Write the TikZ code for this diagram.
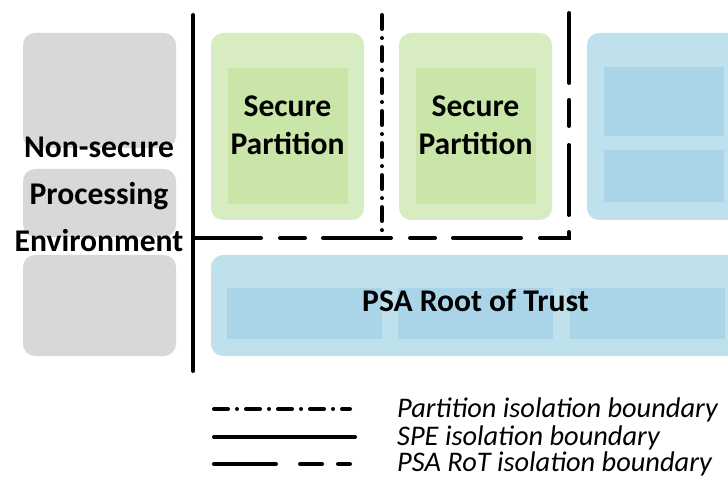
\documentclass[tikz,border=0pt]{standalone}
\usepackage{fontspec}
\setmainfont{Carlito}
\definecolor{nsgray}{HTML}{D8D8D8}
\definecolor{spouter}{HTML}{D8ECC2}
\definecolor{spinner}{HTML}{C9E5A8}
\definecolor{rotouter}{HTML}{BFE1EC}
\definecolor{rotinner}{HTML}{AAD4E7}
\tikzset{
  nsbox/.style={fill=nsgray, rounded corners=12pt},
  spbox/.style={fill=spouter, rounded corners=12pt},
  spcore/.style={fill=spinner},
  rotbox/.style={fill=rotouter, rounded corners=12pt},
  rotcore/.style={fill=rotinner},
  boundary/.style={line width=4pt, line cap=round, line join=miter},
  speline/.style={boundary},
  partline/.style={boundary, dash pattern=on 14pt off 9pt on 0.01pt off 9pt},
  rotline/.style={boundary, dash pattern=on 62pt off 24pt on 22pt off 16pt},
  bigtext/.style={font=\fontsize{31.6}{36}\selectfont\bfseries, anchor=base, inner sep=0pt},
  legtext/.style={font=\fontsize{28.4}{32}\selectfont\itshape, anchor=base west, inner sep=0pt}
}
\begin{document}
\begin{tikzpicture}[x=1pt, y=-1pt]
\useasboundingbox (0,0) rectangle (728,478);
\clip (0,0) rectangle (728,478);

% non-secure processing environment
\fill[nsbox] (23,33) rectangle (176,148);
\fill[nsbox] (23,169) rectangle (176,237);
\fill[nsbox] (23,255) rectangle (176,356);

% secure partitions
\fill[spbox] (211,33) rectangle (364,220);
\fill[spcore] (228,68) rectangle (348,204);
\fill[spbox] (399,33) rectangle (552,220);
\fill[spcore] (416,68) rectangle (536,204);

% PSA RoT service block, upper right
\fill[rotbox] (587,33) rectangle (760,220);
\fill[rotcore] (604,67) rectangle (724,136);
\fill[rotcore] (604,150) rectangle (724,202);

% PSA Root of Trust
\fill[rotbox] (211,255) rectangle (760,356);
\fill[rotcore] (227,288) rectangle (382,339);
\fill[rotcore] (398,288) rectangle (553,339);
\fill[rotcore] (570,288) rectangle (725,339);

% labels
\node[bigtext] (ns1) at (99,158) {Non-secure};
\node[bigtext] (ns2) at (99,205) {Processing};
\node[bigtext] (ns3) at (99,252) {Environment};
\node[bigtext] (spa1) at (287.5,117) {Secure};
\node[bigtext] (spa2) at (287.5,155) {Partition};
\node[bigtext] (spb1) at (475.5,117) {Secure};
\node[bigtext] (spb2) at (475.5,155) {Partition};
\node[bigtext] (rot) at (475.5,312) {PSA Root of Trust};

% isolation boundaries
\draw[speline] (193,15) -- (193,371);
\draw[partline] (382,15) -- (382,236);
\draw[boundary, dash pattern=on 68pt off 19pt on 25pt off 18pt on 68pt off 19pt on 25pt off 18pt on 68pt off 19pt on 35pt off 17pt on 70pt off 19pt on 26pt off 17pt on 70pt off 50pt]
  (193,238) -- (569,238) -- (569,13);

% legend
\draw[partline] (214,409) -- (350,409);
\draw[speline] (214,437) -- (355,437);
\draw[rotline] (214,464) -- (350,464);
\node[legtext] (lg1) at (397,417) {Partition isolation boundary};
\node[legtext] (lg2) at (397,445) {SPE isolation boundary};
\node[legtext] (lg3) at (397,471) {PSA RoT isolation boundary};
\end{tikzpicture}
\end{document}
